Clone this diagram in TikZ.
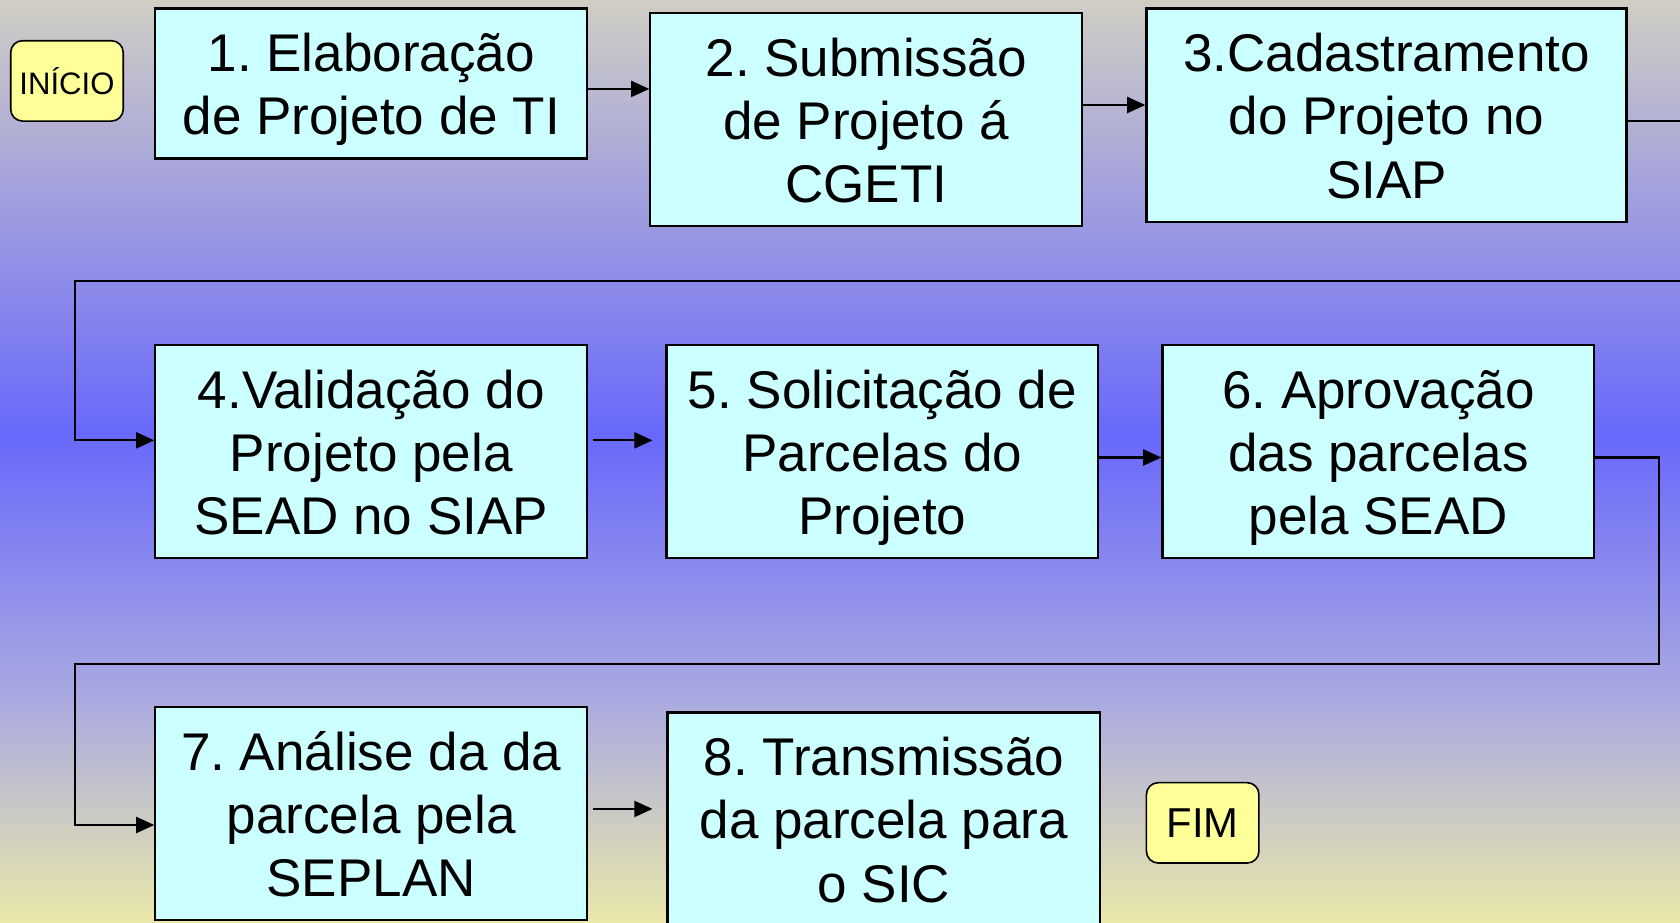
\documentclass[tikz,border=0pt]{standalone}
\usepackage{fontspec}
\setmainfont{Liberation Sans}
\frenchspacing
\usetikzlibrary{arrows.meta}
\definecolor{bgtop}{RGB}{208,206,196}
\definecolor{bgmid}{RGB}{104,104,252}
\definecolor{bglow}{RGB}{170,170,225}
\definecolor{bgbot}{RGB}{234,232,170}
\definecolor{boxcyan}{RGB}{204,255,255}
\definecolor{termyellow}{RGB}{255,255,153}
\newcommand{\bigboxfont}{\fontsize{49.5}{59}\selectfont}
\newcommand{\topstrut}{\rule{0pt}{48pt}}
\tikzset{
  stepbox/.style={draw=black, line width=2pt, fill=boxcyan, minimum width=403pt,
    minimum height=199pt, inner sep=0pt, align=center, font=\bigboxfont,
    execute at end node={\rule[-11pt]{0pt}{11pt}}},
  termbox/.style={draw=black, line width=1.5pt, fill=termyellow, rounded corners=11pt,
    inner sep=0pt, minimum width=105pt, minimum height=75pt},
  arr/.style={line width=2pt, -{Triangle[length=17pt,width=15pt]}},
}
\begin{document}
\begin{tikzpicture}[x=1pt,y=-1pt]
\useasboundingbox (0,0) rectangle (1568,861);
\clip (0,0) rectangle (1568,861);
\shade[top color=bgtop, bottom color=bgmid] (0,0) rectangle (1568,405);
\shade[top color=bgmid, bottom color=bglow] (0,404.5) rectangle (1568,653);
\shade[top color=bglow, bottom color=bgbot] (0,652.5) rectangle (1568,861);

\node[termbox, font=\fontsize{29}{34}\selectfont] (ini) at (62.5,75.5) {INÍCIO};
\node[stepbox, minimum height=140pt] (b1) at (346.5,78) {\topstrut 1. Elaboração\\de Projeto de TI};
\node[stepbox] (b2) at (808.5,111.5) {\topstrut 2. Submissão\\de Projeto á\\CGETI};
\node[stepbox, minimum width=448pt] (b3) at (1294,107.5) {\topstrut 3.Cadastramento\\do Projeto no\\SIAP};
\node[stepbox] (b4) at (346.5,421.5) {\topstrut 4.Validação do\\Projeto pela\\SEAD no SIAP};
\node[stepbox] (b5) at (823.5,421.5) {\topstrut 5. Solicitação de\\Parcelas do\\Projeto};
\node[stepbox] (b6) at (1286.5,421.5) {\topstrut 6. Aprovação\\das parcelas\\pela SEAD};
\node[stepbox] (b7) at (346.5,759.5) {\topstrut 7. Análise da da\\parcela pela\\SEPLAN};
\node[stepbox, minimum width=404pt] (b8) at (825,764.5) {\topstrut 8. Transmissão\\da parcela para\\o SIC};
\node[termbox, font=\fontsize{39}{45}\selectfont] (fim) at (1122.5,768) {FIM};

\coordinate (r1) at (1590,262);
\coordinate (l1) at (70,262);
\coordinate (r2) at (1548,620);
\coordinate (l2) at (70,620);

\draw[arr] ([yshift=-5pt]b1.east) -- ([yshift=-5pt]b1.east -| b2.west);
\draw[arr] ([yshift=13.5pt]b2.east) -- ([yshift=13.5pt]b2.east -| b3.west);
\draw[arr] ([yshift=-5.5pt]b3.east) -| (r1) -- (l1) |- ([yshift=10.5pt]b4.west);
\draw[arr, shorten <=4pt, shorten >=12pt] ([yshift=10.5pt]b4.east) -- ([yshift=10.5pt]b4.east -| b5.west);
\draw[arr] ([yshift=-5.5pt]b5.east) -- ([yshift=-5.5pt]b5.east -| b6.west);
\draw[arr] ([yshift=-5.5pt]b6.east) -| (r2) -- (l2) |- ([yshift=-10.5pt]b7.west);
\draw[arr, shorten <=4pt, shorten >=13pt] ([yshift=4.5pt]b7.east) -- ([yshift=4.5pt]b7.east -| b8.west);
\end{tikzpicture}
\end{document}
